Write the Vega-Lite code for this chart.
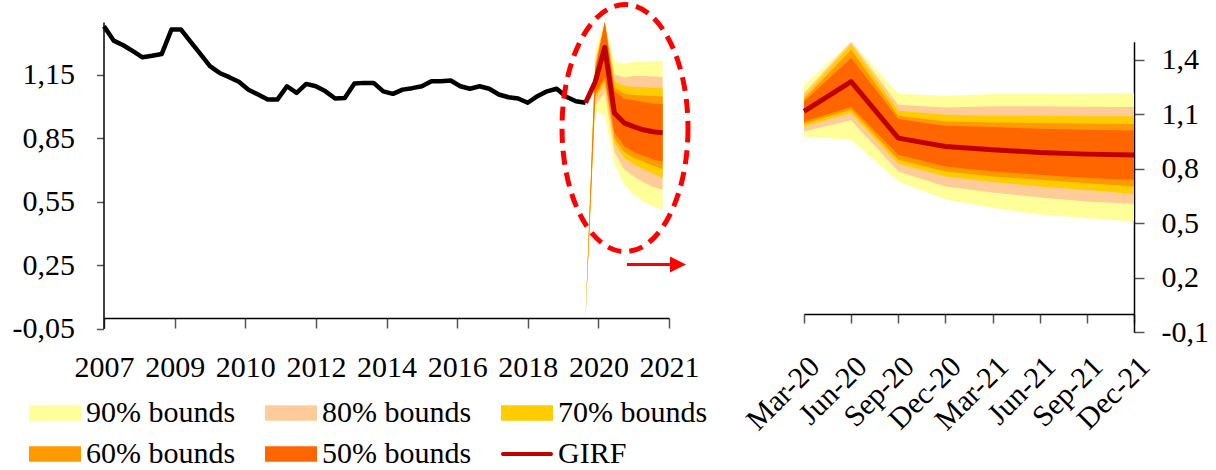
{
  "$schema": "https://vega.github.io/schema/vega-lite/v6.json",
  "width": 1216,
  "height": 470,
  "autosize": {"type": "none"},
  "padding": 0,
  "background": "white",
  "config": {
    "view": {"stroke": null},
    "axis": {
      "grid": false,
      "title": null,
      "labelFont": "Liberation Serif",
      "labelColor": "black",
      "domainColor": "black",
      "domainWidth": 1.5,
      "tickColor": "#555555",
      "tickWidth": 1.5,
      "labelFlush": false,
      "labelOverlap": false
    }
  },
  "datasets": {
    "hist": [
      {"m": 0, "v": 1.380}, {"m": 3, "v": 1.312}, {"m": 6, "v": 1.290}, {"m": 9, "v": 1.262},
      {"m": 12, "v": 1.233}, {"m": 15, "v": 1.240}, {"m": 18, "v": 1.249}, {"m": 21, "v": 1.364},
      {"m": 24, "v": 1.364}, {"m": 27, "v": 1.306}, {"m": 30, "v": 1.249}, {"m": 33, "v": 1.191},
      {"m": 36, "v": 1.159}, {"m": 39, "v": 1.139}, {"m": 42, "v": 1.117}, {"m": 45, "v": 1.080},
      {"m": 48, "v": 1.057}, {"m": 51, "v": 1.033}, {"m": 54, "v": 1.033}, {"m": 57, "v": 1.096},
      {"m": 60, "v": 1.065}, {"m": 63, "v": 1.107}, {"m": 66, "v": 1.096}, {"m": 69, "v": 1.072},
      {"m": 72, "v": 1.038}, {"m": 75, "v": 1.041}, {"m": 78, "v": 1.109}, {"m": 81, "v": 1.112},
      {"m": 84, "v": 1.112}, {"m": 87, "v": 1.072}, {"m": 90, "v": 1.060}, {"m": 93, "v": 1.080},
      {"m": 96, "v": 1.087}, {"m": 99, "v": 1.096}, {"m": 102, "v": 1.120}, {"m": 105, "v": 1.120},
      {"m": 108, "v": 1.123}, {"m": 111, "v": 1.096}, {"m": 114, "v": 1.084}, {"m": 117, "v": 1.096},
      {"m": 120, "v": 1.084}, {"m": 123, "v": 1.057}, {"m": 126, "v": 1.044}, {"m": 129, "v": 1.038},
      {"m": 132, "v": 1.018}, {"m": 135, "v": 1.049}, {"m": 138, "v": 1.072}, {"m": 141, "v": 1.084},
      {"m": 144, "v": 1.046}, {"m": 147, "v": 1.025}, {"m": 150, "v": 1.018}
    ],
    "girf": [
      {"q": "Dec-19", "m": 150, "v": 1.018},
      {"q": "Mar-20", "m": 153, "v": 1.116},
      {"q": "Jun-20", "m": 156, "v": 1.280},
      {"q": "Sep-20", "m": 159, "v": 0.969},
      {"q": "Dec-20", "m": 162, "v": 0.923},
      {"q": "Mar-21", "m": 165, "v": 0.905},
      {"q": "Jun-21", "m": 168, "v": 0.890},
      {"q": "Sep-21", "m": 171, "v": 0.881},
      {"q": "Dec-21", "m": 174, "v": 0.876}
    ],
    "fan": [
      {"band": "90% bounds", "q": "Dec-19", "m": 150, "lo": 0, "hi": 0},
      {"band": "90% bounds", "q": "Mar-20", "m": 153, "lo": 0.978, "hi": 1.263},
      {"band": "90% bounds", "q": "Jun-20", "m": 156, "lo": 0.960, "hi": 1.620},
      {"band": "90% bounds", "q": "Sep-20", "m": 159, "lo": 0.730, "hi": 1.214},
      {"band": "90% bounds", "q": "Dec-20", "m": 162, "lo": 0.633, "hi": 1.203},
      {"band": "90% bounds", "q": "Mar-21", "m": 165, "lo": 0.584, "hi": 1.212},
      {"band": "90% bounds", "q": "Jun-21", "m": 168, "lo": 0.550, "hi": 1.212},
      {"band": "90% bounds", "q": "Sep-21", "m": 171, "lo": 0.528, "hi": 1.215},
      {"band": "90% bounds", "q": "Dec-21", "m": 174, "lo": 0.510, "hi": 1.218},
      {"band": "80% bounds", "q": "Dec-19", "m": 150, "lo": 0, "hi": 0},
      {"band": "80% bounds", "q": "Mar-20", "m": 153, "lo": 1.006, "hi": 1.218},
      {"band": "80% bounds", "q": "Jun-20", "m": 156, "lo": 1.067, "hi": 1.550},
      {"band": "80% bounds", "q": "Sep-20", "m": 159, "lo": 0.785, "hi": 1.153},
      {"band": "80% bounds", "q": "Dec-20", "m": 162, "lo": 0.703, "hi": 1.138},
      {"band": "80% bounds", "q": "Mar-21", "m": 165, "lo": 0.670, "hi": 1.144},
      {"band": "80% bounds", "q": "Jun-21", "m": 168, "lo": 0.642, "hi": 1.144},
      {"band": "80% bounds", "q": "Sep-21", "m": 171, "lo": 0.620, "hi": 1.142},
      {"band": "80% bounds", "q": "Dec-21", "m": 174, "lo": 0.607, "hi": 1.140},
      {"band": "70% bounds", "q": "Dec-19", "m": 150, "lo": 0, "hi": 0},
      {"band": "70% bounds", "q": "Mar-20", "m": 153, "lo": 1.033, "hi": 1.199},
      {"band": "70% bounds", "q": "Jun-20", "m": 156, "lo": 1.107, "hi": 1.484},
      {"band": "70% bounds", "q": "Sep-20", "m": 159, "lo": 0.828, "hi": 1.120},
      {"band": "70% bounds", "q": "Dec-20", "m": 162, "lo": 0.758, "hi": 1.098},
      {"band": "70% bounds", "q": "Mar-21", "m": 165, "lo": 0.727, "hi": 1.092},
      {"band": "70% bounds", "q": "Jun-21", "m": 168, "lo": 0.703, "hi": 1.092},
      {"band": "70% bounds", "q": "Sep-21", "m": 171, "lo": 0.684, "hi": 1.089},
      {"band": "70% bounds", "q": "Dec-21", "m": 174, "lo": 0.662, "hi": 1.089},
      {"band": "60% bounds", "q": "Dec-19", "m": 150, "lo": 0, "hi": 0},
      {"band": "60% bounds", "q": "Mar-20", "m": 153, "lo": 1.048, "hi": 1.184},
      {"band": "60% bounds", "q": "Jun-20", "m": 156, "lo": 1.125, "hi": 1.456},
      {"band": "60% bounds", "q": "Sep-20", "m": 159, "lo": 0.850, "hi": 1.092},
      {"band": "60% bounds", "q": "Dec-20", "m": 162, "lo": 0.785, "hi": 1.061},
      {"band": "60% bounds", "q": "Mar-21", "m": 165, "lo": 0.758, "hi": 1.055},
      {"band": "60% bounds", "q": "Jun-21", "m": 168, "lo": 0.740, "hi": 1.052},
      {"band": "60% bounds", "q": "Sep-21", "m": 171, "lo": 0.721, "hi": 1.050},
      {"band": "60% bounds", "q": "Dec-21", "m": 174, "lo": 0.703, "hi": 1.047},
      {"band": "50% bounds", "q": "Dec-19", "m": 150, "lo": 0, "hi": 0},
      {"band": "50% bounds", "q": "Mar-20", "m": 153, "lo": 1.061, "hi": 1.171},
      {"band": "50% bounds", "q": "Jun-20", "m": 156, "lo": 1.140, "hi": 1.410},
      {"band": "50% bounds", "q": "Sep-20", "m": 159, "lo": 0.877, "hi": 1.074},
      {"band": "50% bounds", "q": "Dec-20", "m": 162, "lo": 0.813, "hi": 1.037},
      {"band": "50% bounds", "q": "Mar-21", "m": 165, "lo": 0.785, "hi": 1.030},
      {"band": "50% bounds", "q": "Jun-21", "m": 168, "lo": 0.767, "hi": 1.021},
      {"band": "50% bounds", "q": "Sep-21", "m": 171, "lo": 0.749, "hi": 1.015},
      {"band": "50% bounds", "q": "Dec-21", "m": 174, "lo": 0.740, "hi": 1.011}
    ],
    "highlight": [{"m": 162.3, "v": 0.898}],
    "arrow": [{"m": 162.9, "m2": 176.3, "v": 0.253}],
    "arrowhead": [{"m": 178.8, "v": 0.253}]
  },
  "layer": [
    {
      "layer": [
        {
          "data": {"name": "fan"},
          "mark": {"type": "area", "opacity": 1, "interpolate": "linear"},
          "encoding": {
            "x": {
              "field": "m", "type": "quantitative",
              "scale": {"domain": [0, 176], "range": [104, 669], "nice": false, "zero": false},
              "axis": {
                "orient": "bottom", "offset": -152,
                "values": [0, 22, 44, 66, 88, 110, 132, 154, 176],
                "labelExpr": "['2007','2009','2010','2012','2014','2016','2018','2020','2021'][round(datum.value/22)]",
                "tickSize": 10, "labelPadding": 24, "labelFontSize": 30
              }
            },
            "y": {
              "field": "lo", "type": "quantitative",
              "scale": {"domain": [-0.05, 1.4], "range": [328.5, 22], "nice": false, "zero": false, "clamp": true},
              "axis": {
                "orient": "left", "offset": -103.5,
                "values": [-0.05, 0.25, 0.55, 0.85, 1.15],
                "labelExpr": "(datum.value < 0 ? '-' : '') + replace(format(abs(datum.value), '.2f'), '.', ',')",
                "tickSize": 7, "labelPadding": 22, "labelFontSize": 30
              }
            },
            "y2": {"field": "hi"},
            "color": {
              "field": "band", "type": "nominal",
              "scale": {
                "domain": ["90% bounds", "80% bounds", "70% bounds", "60% bounds", "50% bounds", "GIRF"],
                "range": ["#ffff99", "#ffcc99", "#ffcc00", "#ff9900", "#ff6600", "#c00000"]
              },
              "legend": {
                "orient": "none", "legendX": 29, "legendY": 387,
                "direction": "horizontal",
                "columns": 3, "title": null, "padding": 0,
                "symbolType": "M-1,-0.3H1V0.3H-1Z", "symbolSize": 2704,
                "symbolStrokeWidth": 0, "symbolOpacity": 1,
                "labelFont": "Liberation Serif", "labelFontSize": 30, "labelColor": "black",
                "labelOffset": 5, "labelLimit": 400,
                "columnPadding": 29, "rowPadding": -13,
                "encode": {
                  "symbols": {
                    "update": {
                      "shape": {"signal": "datum.value === 'GIRF' ? 'M-0.92,-0.08H0.92A0.08,0.08,0,0,1,0.92,0.08H-0.92A0.08,0.08,0,0,1,-0.92,-0.08Z' : 'M-1,-0.3H1V0.3H-1Z'"}
                    }
                  }
                }
              }
            }
          }
        },
        {
          "data": {"name": "hist"},
          "mark": {"type": "line", "color": "black", "strokeWidth": 4.5, "strokeJoin": "round"},
          "encoding": {
            "x": {"field": "m", "type": "quantitative"},
            "y": {"field": "v", "type": "quantitative"}
          }
        },
        {
          "data": {"name": "girf"},
          "mark": {"type": "line", "color": "#c00000", "strokeWidth": 5, "strokeJoin": "round"},
          "encoding": {
            "x": {"field": "m", "type": "quantitative"},
            "y": {"field": "v", "type": "quantitative"}
          }
        },
        {
          "data": {"name": "highlight"},
          "mark": {
            "type": "point",
            "shape": "M0.51,0A0.51,1,0,1,1,-0.51,0A0.51,1,0,1,1,0.51,0Z",
            "size": 61009, "filled": false, "opacity": 1,
            "stroke": "#ff0000", "strokeWidth": 5, "strokeDash": [14, 8]
          },
          "encoding": {
            "x": {"field": "m", "type": "quantitative"},
            "y": {"field": "v", "type": "quantitative"}
          }
        },
        {
          "data": {"name": "arrow"},
          "mark": {"type": "rule", "color": "#ff0000", "strokeWidth": 3},
          "encoding": {
            "x": {"field": "m", "type": "quantitative"},
            "x2": {"field": "m2"},
            "y": {"field": "v", "type": "quantitative"}
          }
        },
        {
          "data": {"name": "arrowhead"},
          "mark": {"type": "point", "shape": "M-1,-1L1,0L-1,1Z", "size": 256, "filled": true, "opacity": 1, "color": "#ff0000"},
          "encoding": {
            "x": {"field": "m", "type": "quantitative"},
            "y": {"field": "v", "type": "quantitative"}
          }
        }
      ]
    },
    {
      "layer": [
        {
          "data": {"name": "fan"},
          "transform": [{"filter": "datum.q !== 'Dec-19'"}],
          "mark": {"type": "area", "opacity": 1, "interpolate": "linear"},
          "encoding": {
            "x": {
              "field": "q", "type": "ordinal",
              "scale": {
                "type": "point", "padding": 0, "range": [804, 1134],
                "domain": ["Mar-20", "Jun-20", "Sep-20", "Dec-20", "Mar-21", "Jun-21", "Sep-21", "Dec-21"]
              },
              "axis": {
                "orient": "bottom", "offset": -156,
                "tickSize": 9, "labelAngle": -45, "labelPadding": 28, "labelFontSize": 30
              }
            },
            "y": {
              "field": "lo", "type": "quantitative",
              "scale": {"domain": [-0.1, 1.5], "range": [332.3, 41.7], "nice": false, "zero": false, "clamp": true},
              "axis": {
                "orient": "right", "offset": -82,
                "values": [-0.1, 0.2, 0.5, 0.8, 1.1, 1.4],
                "labelExpr": "(datum.value < 0 ? '-' : '') + replace(format(abs(datum.value), '.1f'), '.', ',')",
                "tickSize": 10, "labelPadding": 17, "labelFontSize": 30
              }
            },
            "y2": {"field": "hi"},
            "color": {"field": "band", "type": "nominal"}
          }
        },
        {
          "data": {"name": "girf"},
          "transform": [{"filter": "datum.q !== 'Dec-19'"}],
          "mark": {"type": "line", "color": "#c00000", "strokeWidth": 5, "strokeJoin": "round"},
          "encoding": {
            "x": {"field": "q", "type": "ordinal"},
            "y": {"field": "v", "type": "quantitative"}
          }
        }
      ]
    }
  ],
  "resolve": {
    "scale": {"x": "independent", "y": "independent"},
    "axis": {"x": "independent", "y": "independent"}
  }
}
